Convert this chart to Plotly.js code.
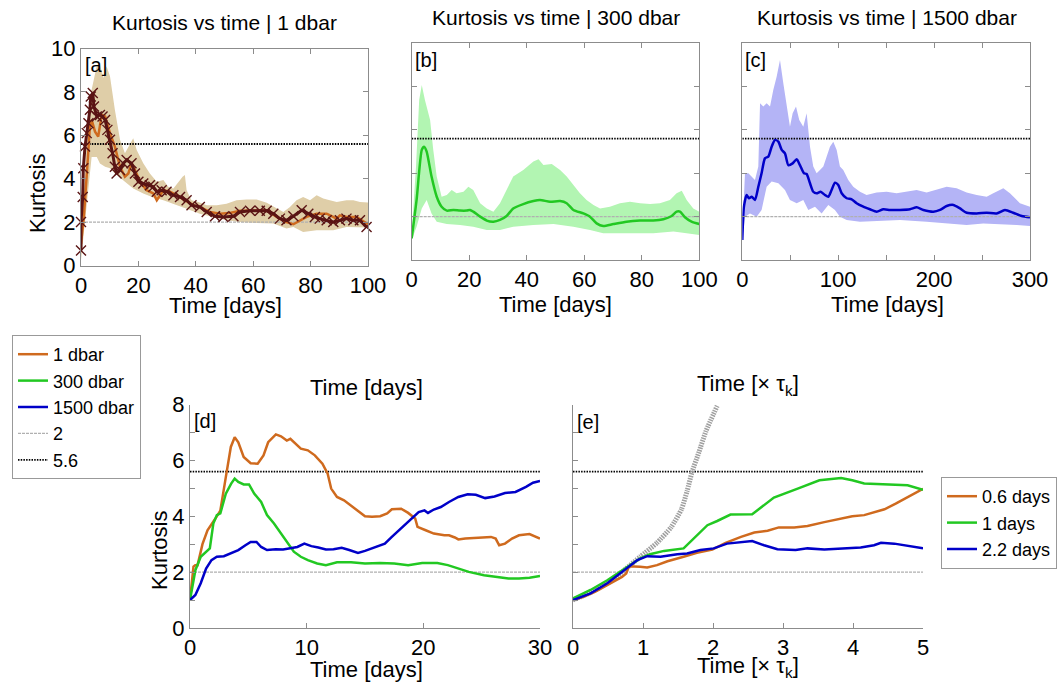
<!DOCTYPE html>
<html>
<head>
<meta charset="utf-8">
<script src="https://cdn.plot.ly/plotly-3.0.1.min.js"></script>
<style>html,body{margin:0;padding:0;background:#fff}#chart{width:1064px;height:687px}</style>
</head>
<body>
<div id="chart"></div>
<script>
// ---------------- DATA ----------------
// thresholds
const thresholds = [2, 5.6];
const thresholdNames = ['2', '5.6'];

// Panel [a] 1 dbar
const aDays = [0,1.0,2.2,3.1,3.7,4.9,6.0,7.2,8.4,10.1,11.8,13.6,15.3,16.5,17.6,18.8,20.6,22.9,25.2,26.4,28.7,31.0,33.3,36.2,39.1,41.4,44.9,48.4,51.9,55.4,60.0,64.7,68.2,71.6,74.0,76.3,78.6,82.1,85.6,89.1,90.2,92.5,96.0,100];
const aMean = [1.0,2.24,4.55,6.4,6.71,6.17,5.94,6.94,6.87,6.1,5.48,4.55,4.09,4.24,4.71,4.4,3.86,3.47,3.32,3.01,3.47,3.4,3.24,3.01,2.78,2.7,2.47,2.39,2.42,2.52,2.55,2.55,2.24,2.0,1.9,2.08,2.24,2.39,2.39,2.16,2.31,2.24,2.24,1.9];
const aCrossDays = [0,0,0.6,0.8,1.4,2.0,2.6,3.1,3.4,4.1,4.5,5.5,6.6,7.5,8.4,9.2,10.1,11.0,11.8,12.4,13.6,14.7,15.9,17.6,18.8,20.0,21.7,24.0,25.2,26.4,28.1,29.8,32.2,34.5,36.8,38.5,41.4,43.8,46.7,49.6,53.1,55.4,58.9,62.3,64.7,67.0,69.3,71.6,74.0,76.9,79.2,81.5,83.2,85.6,87.9,90.2,92.5,94.9,97.2,99.5];
const aCross = [0.69,2.0,3.16,4.48,5.48,6.1,6.56,7.18,7.79,7.95,7.33,6.87,6.94,6.87,6.71,6.25,5.79,5.17,4.55,4.24,4.4,4.71,4.86,4.71,4.24,3.86,3.78,3.7,3.63,3.4,3.47,3.4,3.24,3.16,3.01,2.78,2.7,2.47,2.27,2.24,2.27,2.47,2.52,2.52,2.52,2.39,2.16,2.08,2.27,2.55,2.39,2.24,2.16,2.08,2.0,2.08,2.16,2.08,2.08,1.77];
const aUpDays = [0,0.8,2.2,3.7,5.5,6.6,7.8,8.9,10.1,11.8,13.6,15.3,17.1,18.2,19.4,21.7,24.0,26.4,28.7,30.4,32.2,33.9,35.4,36.2,36.8,38.5,40.9,43.8,47.3,50.7,54.2,57.7,61.2,64.7,68.2,70.5,72.8,75.1,77.4,79.8,82.1,84.4,86.7,89.1,92.5,94.9,97.2,100];
const aUp = [1.16,3.0,6.1,8.1,9.2,9.26,8.64,9.18,8.72,7.18,5.79,5.17,5.63,5.86,5.32,4.71,4.24,3.86,3.94,3.63,3.55,3.86,4.09,4.17,3.47,3.01,2.93,2.78,2.78,2.85,3.01,3.04,3.04,2.89,2.62,2.47,2.7,3.01,3.16,3.01,3.24,3.09,3.01,2.93,3.01,3.01,2.93,2.9];
const aLoDays = [0,0.8,2.6,3.7,5.5,6.6,8.4,10.1,11.8,14.7,18.2,21.7,25.2,28.7,32.2,36.8,41.4,46.1,50.7,55.4,61.2,67.0,71.6,74.0,77.4,82.1,87.9,92.5,97.2,100];
const aLo = [0.23,1.16,3.63,5.0,5.0,4.7,4.55,4.48,4.24,3.93,3.55,3.32,3.13,3.01,2.85,2.62,2.39,2.24,2.08,2.0,1.96,1.93,1.7,1.77,1.54,1.62,1.62,1.77,1.77,1.75];

// Panel [b] 300 dbar
const bDays = [0,1.7,3.5,4.3,5.2,6.9,8.7,10.4,12.2,14.5,16.8,19.1,20.3,21.4,23.8,26.1,28.4,30.7,33.0,35.3,38.8,42.3,44.6,48.1,51.6,53.9,56.2,59.7,62.0,64.3,66.6,70.1,74.7,79.4,84.0,87.5,90.4,92.1,93.3,95.0,97.3,100];
const bMean = [1.0,2.77,5.08,5.23,5.0,3.85,2.92,2.46,2.28,2.31,2.28,2.28,2.31,2.23,2.0,1.82,1.77,1.85,2.03,2.38,2.58,2.72,2.77,2.69,2.72,2.62,2.31,2.15,2.0,1.69,1.57,1.66,1.77,1.82,1.82,1.88,2.03,2.23,2.23,1.97,1.77,1.66];
const bUpDays = [0,1.5,2.6,3.5,4.6,6.4,7.5,8.7,10.4,12.2,13.9,15.6,18.0,19.7,21.4,23.8,26.1,28.4,30.7,33.0,35.3,38.8,42.3,44.1,45.8,48.7,51.6,53.9,56.2,58.5,60.8,63.2,65.5,68.9,72.4,75.9,79.4,82.9,86.3,89.8,92.1,93.9,95.6,97.9,100];
const bUp = [1.23,4.31,7.38,8.08,7.38,6.46,5.08,3.85,2.92,3.0,3.23,3.08,3.15,3.38,3.23,2.62,2.38,2.23,2.62,3.23,3.85,4.15,4.54,4.65,4.38,4.43,4.15,3.85,3.46,3.08,2.77,2.54,2.38,2.46,2.62,2.69,2.62,2.58,2.62,2.77,3.08,3.2,2.77,2.38,2.23];
const bLoDays = [0,1.7,3.5,5.2,6.9,8.7,12.2,16.8,21.4,26.1,30.7,35.3,42.3,49.3,56.2,62.0,66.6,74.7,84.0,91.0,95.6,100];
const bLo = [0.92,1.54,2.38,2.77,2.15,1.77,1.66,1.62,1.54,1.38,1.38,1.54,1.62,1.66,1.54,1.38,1.23,1.23,1.23,1.31,1.23,1.15];

// Panel [c] 1500 dbar
const cDays = [0,1.7,4.5,7.0,9.8,13.2,16.7,20.1,23.6,27.1,30.6,34.1,37.6,41.1,44.5,48.0,52.5,56.7,60.1,64.3,67.1,70.6,74.0,77.5,81.7,86.2,89.7,93.1,96.6,100.1,103.6,108.8,114.0,119.2,126.2,133.1,140.1,147.1,154.0,164.4,174.9,181.8,188.8,199.2,206.2,213.1,220.1,227.0,234.0,244.4,254.8,265.2,273.9,282.6,291.3,300];
const cMean = [0.92,2.46,3.0,2.85,2.92,2.77,3.38,4.0,4.69,4.77,5.23,5.54,5.46,5.08,4.92,4.38,4.46,4.65,4.38,4.0,3.97,3.54,3.15,3.08,3.15,3.0,2.92,3.23,3.57,3.46,3.08,2.85,2.8,2.62,2.46,2.34,2.23,2.34,2.31,2.31,2.34,2.43,2.31,2.23,2.31,2.49,2.54,2.38,2.18,2.15,2.18,2.15,2.31,2.18,2.03,1.97];
const cUpDays = [0,2.8,6.3,9.8,13.2,16.7,18.5,21.9,25.4,28.9,32.3,35.8,39.3,42.8,46.2,49.7,52.5,56.0,59.4,63.6,67.1,70.6,74.0,77.5,81.0,84.5,87.9,91.4,94.9,98.4,101.8,105.3,110.5,115.7,122.7,129.6,140.1,150.5,160.9,171.4,181.8,192.2,202.6,213.1,223.5,233.9,244.4,254.8,261.7,272.2,279.1,289.5,300];
const cUp = [1.23,4.0,4.0,3.85,3.69,4.31,7.23,7.08,7.23,7.08,7.85,8.46,9.23,8.15,7.23,6.15,6.77,7.08,6.46,6.15,6.77,5.23,4.31,4.0,4.15,4.31,4.77,5.23,5.46,5.08,4.31,4.15,3.69,3.38,3.15,3.0,3.11,3.15,3.08,3.15,3.23,3.11,3.23,3.38,3.31,3.11,3.0,2.92,3.08,3.31,3.08,2.62,2.46];
const cLoDays = [0,2.8,8.0,15.0,20.1,25.4,30.6,37.6,44.5,49.7,56.7,63.6,68.8,75.8,82.7,89.7,96.6,101.8,108.8,122.7,140.1,164.4,192.2,216.6,233.9,251.3,268.7,286.1,300];
const cLo = [0.92,2.0,2.15,2.0,2.31,3.38,3.62,3.54,3.23,2.77,2.62,2.77,2.31,2.46,2.15,2.54,2.31,2.0,1.85,1.77,1.8,1.85,1.77,1.69,1.62,1.69,1.66,1.62,1.57];

// Panel [d] first 30 days
const dNames = ['1 dbar', '300 dbar', '1500 dbar'];
const d1Days = [0,0.3,0.45,0.65,1.07,1.5,2.15,2.6,3.07,3.5,3.83,4.14,4.6,5.2,5.8,6.3,6.7,7.36,7.8,8.3,8.6,9.05,9.5,10.1,10.7,11.35,11.8,12.1,12.6,13.2,13.8,14.4,15.0,15.6,16.3,16.9,17.3,18.1,18.7,19.3,19.5,20.2,20.9,21.8,22.2,22.7,23.0,23.6,24.8,25.8,26.2,26.5,27.0,27.6,28.2,29.1,30];
const d1K = [1.0,2.2,2.25,2.25,3.0,3.5,3.9,4.2,5.4,6.48,6.83,6.65,6.12,5.9,5.88,6.18,6.65,6.93,6.86,6.71,6.77,6.6,6.42,6.36,6.18,5.88,5.52,4.99,4.69,4.57,4.39,4.21,4.0,3.98,4.0,4.1,4.25,4.27,4.12,3.92,3.62,3.5,3.38,3.32,3.32,3.24,3.17,3.2,3.23,3.26,3.2,2.96,3.02,3.2,3.32,3.36,3.2];
const d300Days = [0,0.46,0.92,1.38,1.7,2.0,2.3,2.6,3.07,3.53,3.83,4.14,4.6,5.06,5.5,6.1,6.6,7.2,7.8,8.3,8.9,9.5,10.1,10.9,11.65,12.6,13.8,15.0,16.3,17.5,18.7,19.9,21.2,22.1,23.0,23.9,25.2,26.4,27.3,28.2,29.1,30];
const d300K = [1.0,2.07,2.55,2.73,2.85,3.74,4.04,4.1,4.81,5.17,5.35,5.23,5.14,5.14,4.81,4.51,4.04,3.74,3.38,3.08,2.73,2.55,2.43,2.31,2.25,2.35,2.35,2.31,2.33,2.31,2.25,2.33,2.33,2.25,2.13,2.01,1.89,1.81,1.77,1.77,1.8,1.86];
const d1500Days = [0,0.46,0.92,1.38,1.84,2.3,2.9,3.5,4.14,4.75,5.2,5.7,6.1,6.6,7.36,7.98,8.6,9.2,9.8,10.4,11.0,11.65,12.3,13.0,13.65,14.4,15.0,15.95,16.7,17.3,18.1,18.9,19.6,20.1,20.4,20.9,21.5,22.2,23.0,23.8,24.5,25.3,26.1,27.0,27.9,28.8,29.4,30];
const d1500K = [1.0,1.18,1.6,2.13,2.43,2.55,2.57,2.67,2.79,2.96,3.08,3.08,2.9,2.79,2.82,2.81,2.85,2.9,3.02,2.93,2.88,2.81,2.82,2.87,2.79,2.69,2.76,2.9,3.02,3.26,3.56,3.86,4.15,4.21,4.12,4.24,4.33,4.51,4.69,4.79,4.77,4.65,4.71,4.83,4.87,5.05,5.2,5.26];

// Panel [e] time in units of tau_k
const eNames = ['0.6 days', '1 days', '2.2 days'];
const e06T = [0,0.15,0.32,0.49,0.7,0.76,0.8,0.96,1.06,1.2,1.35,1.58,1.77,1.99,2.18,2.4,2.59,2.78,2.94,3.16,3.35,3.59,3.83,3.99,4.16,4.3,4.45,4.61,4.78,5.0];
const e06K = [1.0,1.12,1.3,1.54,1.83,1.95,2.21,2.19,2.17,2.25,2.39,2.55,2.69,2.81,3.05,3.26,3.42,3.48,3.6,3.6,3.65,3.79,3.9,4.0,4.04,4.14,4.25,4.45,4.69,4.98];
const e1T = [0,0.25,0.49,0.73,0.96,1.1,1.3,1.58,1.73,1.92,2.06,2.25,2.56,2.87,3.21,3.52,3.83,3.99,4.16,4.45,4.78,5.0];
const e1K = [1.06,1.36,1.71,2.1,2.49,2.64,2.76,2.85,3.2,3.68,3.83,4.06,4.07,4.67,4.99,5.29,5.37,5.29,5.17,5.15,5.11,4.95];
const e22T = [0,0.25,0.49,0.73,0.92,1.06,1.25,1.49,1.63,1.82,2.01,2.2,2.4,2.56,2.73,2.92,3.18,3.35,3.59,3.83,4.11,4.3,4.4,4.59,4.78,5.0];
const e22K = [1.0,1.24,1.6,2.07,2.43,2.57,2.55,2.64,2.67,2.79,2.85,3.02,3.08,3.11,2.96,2.82,2.79,2.85,2.81,2.85,2.88,2.96,3.05,3.02,2.93,2.85];
const eRefT = [0,0.25,0.5,0.73,0.96,1.2,1.4,1.55,1.63,1.7,1.8,1.9,2.06];
const eRefK = [1.0,1.27,1.62,2.07,2.55,3.05,3.6,4.25,4.9,5.58,6.3,7.05,7.95];

// ---------------- STYLE ----------------
const FONT = '"Liberation Sans", Arial, Helvetica, sans-serif';
const C_OR = '#cf6a1e', C_GR = '#22c822', C_BL = '#0000c8';
const C_CROSS = '#5a1414';
const F_OR = 'rgb(223,206,168)', F_GR = 'rgb(178,245,178)', F_BL = 'rgb(180,180,246)';
const AXC = '#8c8c8c';
const W = 1064, H = 687;
const px = v => v / W, py = v => 1 - v / H;

const ranges = {
  x: [0, 100], x2: [0, 100], x3: [0, 300], x4: [0, 30], x5: [0, 5],
  y: [0, 10], y2: [0, 10], y3: [0, 10], y4: [0, 8], y5: [0, 8]
};

const traces = [];
function band(xu, yu, xl, yl, fill, xa, ya) {
  traces.push({
    x: xu.concat(xl.slice().reverse()), y: yu.concat(yl.slice().reverse()),
    type: 'scatter', mode: 'lines', fill: 'toself', fillcolor: fill,
    line: { width: 0, color: fill }, hoverinfo: 'skip', showlegend: false, xaxis: xa, yaxis: ya
  });
}
function line(x, y, color, xa, ya, opts) {
  traces.push(Object.assign({
    x: x, y: y, type: 'scatter', mode: 'lines', line: { color: color, width: 2.5 },
    showlegend: false, xaxis: xa, yaxis: ya
  }, opts || {}));
}
function hlines(xa, ya, legendOn) {
  const r = ranges[xa];
  thresholds.forEach((v, i) => {
    traces.push({
      x: [r[0], r[1]], y: [v, v], type: 'scatter', mode: 'lines',
      line: i === 0 ? { color: '#b0b0b0', width: 1.4, dash: '3px,1px' } : { color: '#000', width: 1.8, dash: '1.5px,1.2px' },
      name: thresholdNames[i], showlegend: !!legendOn, legend: 'legend', legendrank: 4 + i,
      xaxis: xa, yaxis: ya, hoverinfo: 'skip'
    });
  });
}

// [a]
band(aUpDays, aUp, aLoDays, aLo, F_OR, 'x', 'y');
hlines('x', 'y');
line(aDays, aMean, C_OR, 'x', 'y');
line(aCrossDays, aCross, C_CROSS, 'x', 'y', {
  mode: 'lines+markers', line: { color: C_CROSS, width: 3 },
  marker: { symbol: 'x-thin-open', size: 10, line: { width: 1.4, color: C_CROSS } }, cliponaxis: false
});
// [b]
band(bUpDays, bUp, bLoDays, bLo, F_GR, 'x2', 'y2');
hlines('x2', 'y2');
line(bDays, bMean, C_GR, 'x2', 'y2', { line: { color: C_GR, width: 2.5, shape: 'spline', smoothing: 0.6 } });
// [c]
band(cUpDays, cUp, cLoDays, cLo, F_BL, 'x3', 'y3');
hlines('x3', 'y3');
line(cDays, cMean, C_BL, 'x3', 'y3', { line: { color: C_BL, width: 2.5, shape: 'spline', smoothing: 0.6 } });
// [d]
hlines('x4', 'y4', true);
line(d1Days, d1K, C_OR, 'x4', 'y4', { name: dNames[0], showlegend: true, legend: 'legend', legendrank: 1 });
line(d300Days, d300K, C_GR, 'x4', 'y4', { name: dNames[1], showlegend: true, legend: 'legend', legendrank: 2 });
line(d1500Days, d1500K, C_BL, 'x4', 'y4', { name: dNames[2], showlegend: true, legend: 'legend', legendrank: 3 });
// [e]
hlines('x5', 'y5');
line(eRefT, eRefK, '#a0a0a0', 'x5', 'y5', { line: { color: '#a0a0a0', width: 5, dash: '1.5px,1px', shape: 'spline', smoothing: 0.5 } });
line(e06T, e06K, C_OR, 'x5', 'y5', { name: eNames[0], showlegend: true, legend: 'legend2' });
line(e1T, e1K, C_GR, 'x5', 'y5', { name: eNames[1], showlegend: true, legend: 'legend2' });
line(e22T, e22K, C_BL, 'x5', 'y5', { name: eNames[2], showlegend: true, legend: 'legend2' });

// ---------------- LAYOUT ----------------
function ax(id, domain, extra) {
  return Object.assign({
    domain: domain, range: ranges[id], autorange: false, showgrid: false, zeroline: false,
    showline: true, linecolor: AXC, linewidth: 1, ticks: 'inside', ticklen: 5, tickcolor: AXC, tickwidth: 1,
    tickfont: { family: FONT, size: 22, color: '#000' }, fixedrange: true
  }, extra || {});
}
const yTop = [py(260), py(43.3)];
const yTopA = [py(265.5), py(48.5)];
const yBot = [py(628), py(404.5)];

const layout = {
  width: W, height: H, margin: { l: 0, r: 0, t: 0, b: 0 },
  paper_bgcolor: '#fff', plot_bgcolor: '#fff',
  font: { family: FONT, color: '#000' },
  xaxis: ax('x', [px(81), px(368)], { anchor: 'y', tick0: 0, dtick: 20, mirror: 'allticks' }),
  yaxis: ax('y', yTopA, { anchor: 'x', tick0: 0, dtick: 2, mirror: 'allticks' }),
  xaxis2: ax('x2', [px(411.7), px(699.3)], { anchor: 'y2', tick0: 0, dtick: 20, mirror: 'allticks' }),
  yaxis2: ax('y2', yTop, { anchor: 'x2', tick0: 0, dtick: 2, mirror: 'allticks', showticklabels: false }),
  xaxis3: ax('x3', [px(742.3), px(1030)], { anchor: 'y3', tick0: 0, dtick: 100, mirror: 'allticks',
    minor: { dtick: 50, ticks: 'inside', ticklen: 5, tickcolor: AXC } }),
  yaxis3: ax('y3', yTop, { anchor: 'x3', tick0: 0, dtick: 2, mirror: 'allticks', showticklabels: false }),
  xaxis4: ax('x4', [px(190), px(540)], { anchor: 'y4', tick0: 0, dtick: 10 }),
  yaxis4: ax('y4', yBot, { anchor: 'x4', tick0: 0, dtick: 2,
    minor: { dtick: 1, ticks: 'inside', ticklen: 5, tickcolor: AXC } }),
  xaxis5: ax('x5', [px(573), px(923)], { anchor: 'y5', tick0: 0, dtick: 1 }),
  yaxis5: ax('y5', yBot, { anchor: 'x5', tick0: 0, dtick: 2, showticklabels: false,
    minor: { dtick: 1, ticks: 'inside', ticklen: 5, tickcolor: AXC } }),
  legend: {
    x: px(12), y: py(335), xanchor: 'left', yanchor: 'top', xref: 'paper', yref: 'paper',
    bgcolor: '#fff', bordercolor: '#999', borderwidth: 1, itemwidth: 30, tracegroupgap: 0,
    font: { family: FONT, size: 18, color: '#000' }, traceorder: 'normal'
  },
  legend2: {
    x: px(941), y: py(477), xanchor: 'left', yanchor: 'top', xref: 'paper', yref: 'paper',
    bgcolor: '#fff', bordercolor: '#999', borderwidth: 1, itemwidth: 30, tracegroupgap: 0,
    font: { family: FONT, size: 18, color: '#000' }, traceorder: 'normal'
  },
  annotations: []
};

function label(text, x, y, size, opts) {
  layout.annotations.push(Object.assign({
    text: text, x: px(x), y: py(y), xref: 'paper', yref: 'paper', showarrow: false,
    xanchor: 'center', yanchor: 'middle', font: { family: FONT, size: size, color: '#000' }
  }, opts || {}));
}
// panel titles
label('Kurtosis vs time | 1 dbar', 224, 22, 21);
label('Kurtosis vs time | 300 dbar', 556, 17, 21);
label('Kurtosis vs time | 1500 dbar', 887, 17, 21);
// x titles
label('Time [days]', 225, 305, 22);
label('Time [days]', 555, 304, 22);
label('Time [days]', 887, 304, 22);
label('Time [days]', 366, 387, 22);
label('Time [days]', 366, 669, 22);
label('Time [× τ<sub>k</sub>]', 748, 385, 22);
label('Time [× τ<sub>k</sub>]', 748, 667, 22);
// y titles
label('Kurtosis', 37, 194, 22, { textangle: -90 });
label('Kurtosis', 159, 551, 22, { textangle: -90 });
// panel letters
label('[a]', 83, 52, 20, { xanchor: 'left', yanchor: 'top' });
label('[b]', 413, 47, 20, { xanchor: 'left', yanchor: 'top' });
label('[c]', 743, 47, 20, { xanchor: 'left', yanchor: 'top' });
label('[d]', 192, 408, 20, { xanchor: 'left', yanchor: 'top' });
label('[e]', 575, 409, 20, { xanchor: 'left', yanchor: 'top' });

Plotly.newPlot('chart', traces, layout, { staticPlot: true, displayModeBar: false });
</script>
</body>
</html>
